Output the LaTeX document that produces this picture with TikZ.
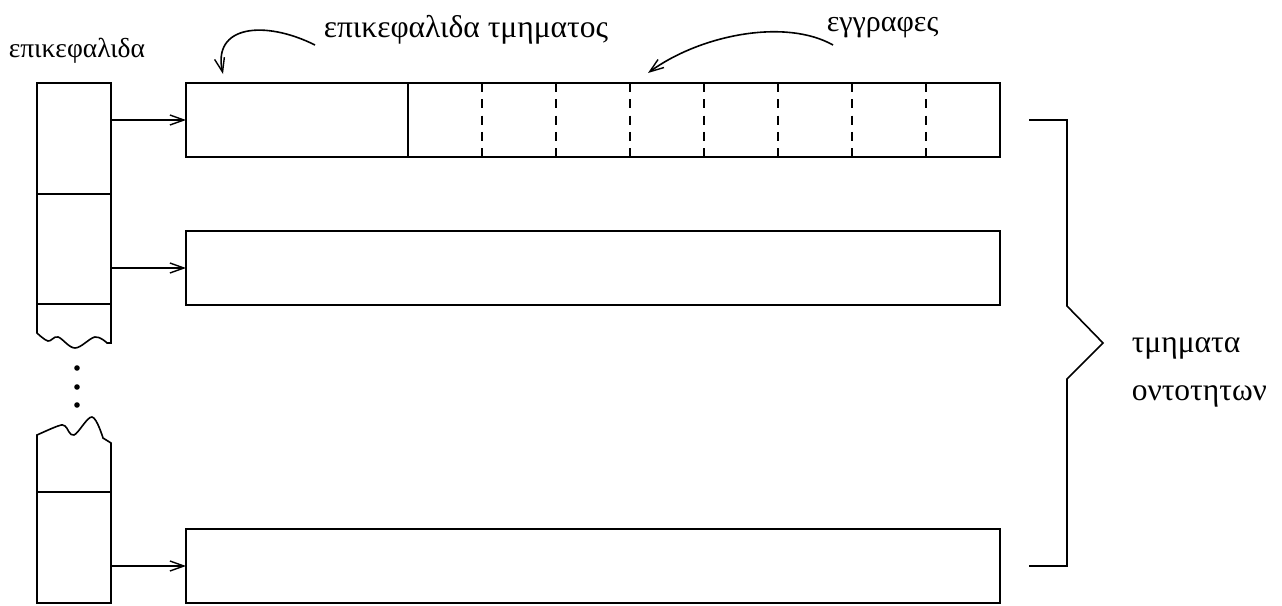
\documentclass[tikz,border=0pt]{standalone}
\usepackage{fontspec}
\setmainfont{Liberation Serif}
\usetikzlibrary{arrows.meta}
\begin{document}
\begin{tikzpicture}[x=1pt,y=-1pt,line width=1.6pt,
  segbox/.style={draw,rectangle,minimum width=814pt,minimum height=74pt,
    anchor=north west,inner sep=0pt,outer sep=0pt},
  ptr/.style={-{Straight Barb[length=14pt,width=10pt,line width=1.4pt]}},
  lbl/.style={inner sep=0pt,anchor=base west,font=\fontsize{31.5}{38}\selectfont},
  recsep/.style={dash pattern=on 9pt off 7.25pt}]
\useasboundingbox (0,0) rectangle (1282,605);

% segments of the entity table
\node[segbox] (b1) at (186,83) {};
\node[segbox] (b2) at (186,231) {};
\node[segbox] (b3) at (186,529) {};

% segment header and record slots of the first segment
\draw ([xshift=222pt]b1.north west) -- ([xshift=222pt]b1.south west);
\foreach \i in {1,...,7}
  \draw[recsep] ([xshift={222pt+\i*74pt}]b1.north west) -- ([xshift={222pt+\i*74pt}]b1.south west);

% header column, upper part with torn bottom edge
\draw plot[smooth,tension=0.6] coordinates {(37,333) (48,341) (58,337) (75,348) (95,337) (107,343)}
  -- (111,343) -- (111,83) -- (37,83) -- cycle;
\draw (37,194) -- (111,194);
\draw (37,304) -- (111,304);

% continuation dots
\fill (77,368) circle (2.8pt) (77,387) circle (2.8pt) (77,405) circle (2.8pt);

% header column, lower part with torn top edge
\draw plot[smooth,tension=0.6] coordinates {(37,435) (58,426) (65,426) (74,435) (92,417) (103,438)}
  -- (111,443) -- (111,603) -- (37,603) -- cycle;
\draw (37,492) -- (111,492);

% pointers from the header column to the segments
\coordinate (p1) at (111,120);
\coordinate (p2) at (111,268);
\coordinate (p3) at (111,566);
\draw[ptr] (p1) -- (b1.west);
\draw[ptr] (p2) -- (b2.west);
\draw[ptr] (p3) -- (b3.west);

% labels
\node[lbl,font=\fontsize{27.5}{33}\selectfont] (hdr) at (8,57) {επικεφαλιδα};
\node[lbl] (seghdr) at (323,37) {επικεφαλιδα τμηματος};
\node[lbl,font=\fontsize{30}{36}\selectfont] (recs) at (826,31) {εγγραφες};
\node[lbl] (segsA) at (1131,352) {τμηματα};
\node[lbl] (segsB) at (1131,400) {οντοτητων};

% curved callout arrows
\coordinate (a1s) at ([shift={(-8,8)}]seghdr.base west);
\coordinate (a1e) at ([shift={(37,-9)}]b1.north west);
\draw[ptr] (a1s) .. controls (265,20) and (212,25) .. (a1e);
\coordinate (a2s) at ([shift={(7,14)}]recs.base west);
\coordinate (a2e) at ([shift={(462,-10)}]b1.north west);
\draw[ptr] (a2s) .. controls (785,18) and (700,35) .. (a2e);

% brace grouping the segments
\coordinate (c1) at (1029,120);
\coordinate (c2) at (1029,566);
\draw (c1) -- (1067,120) -- (1067,306) -- (1103,343) -- (1067,379) -- (1067,566) -- (c2);
\end{tikzpicture}
\end{document}
